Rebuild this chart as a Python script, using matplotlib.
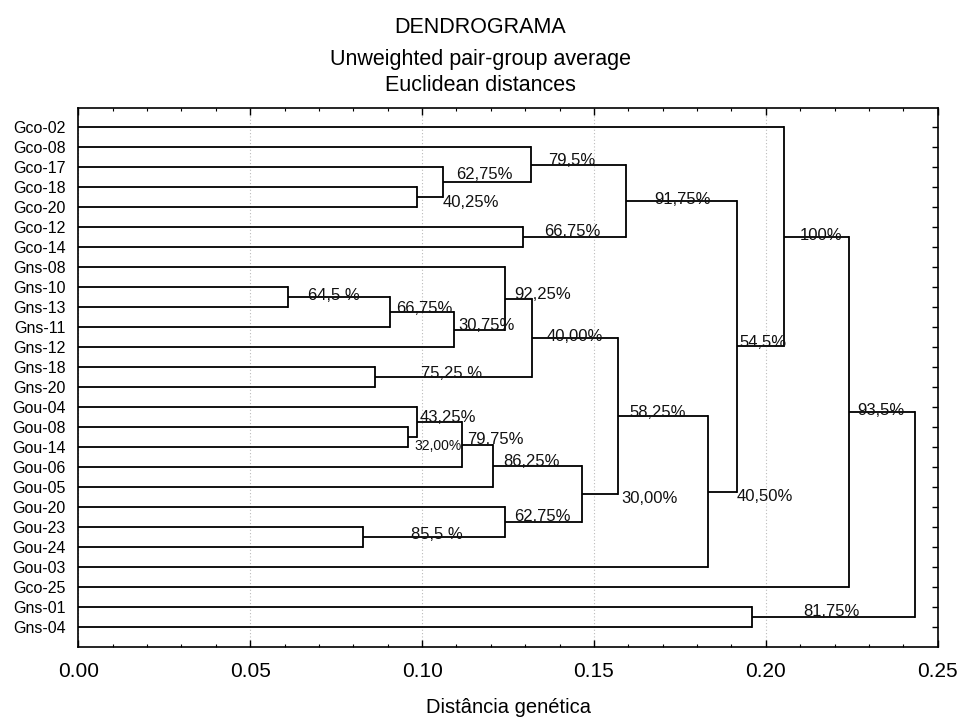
import numpy as np
import matplotlib.pyplot as plt

plt.rcParams['font.family'] = ['Liberation Sans', 'DejaVu Sans']

# folhas na ordem do dendrograma (de cima para baixo)
leaves = ["Gco-02", "Gco-08", "Gco-17", "Gco-18", "Gco-20", "Gco-12", "Gco-14",
          "Gns-08", "Gns-10", "Gns-13", "Gns-11", "Gns-12", "Gns-18", "Gns-20",
          "Gou-04", "Gou-08", "Gou-14", "Gou-06", "Gou-05", "Gou-20", "Gou-23",
          "Gou-24", "Gou-03", "Gco-25", "Gns-01", "Gns-04"]

# unioes: folhas sao 0..25, a uniao k recebe o indice 26+k
merge_a = [3, 2, 1, 5, 28, 8, 31, 32, 7, 12, 34, 15, 14, 38, 39, 20, 19, 40, 36, 44, 30, 0, 47, 24, 48]
merge_b = [4, 26, 27, 6, 29, 9, 10, 11, 33, 13, 35, 16, 37, 17, 18, 21, 41, 42, 43, 22, 45, 46, 23, 25, 49]
merge_h = [0.0985, 0.1061, 0.1316, 0.1294, 0.1592, 0.0609, 0.0907, 0.1092, 0.1240,
           0.0862, 0.1321, 0.0958, 0.0985, 0.1116, 0.1206, 0.0828, 0.1240, 0.1465,
           0.1570, 0.1831, 0.1917, 0.2054, 0.2241, 0.1960, 0.2435]

# valores de suporte (texto) e onde ficam
support = ["62,75%", "40,25%", "79,5%", "66,75%", "91,75%", "100%", "54,5%",
           "93,5%", "40,50%", "81,75%", "30,00%", "58,25%", "92,25%", "66,75%",
           "30,75%", "40,00%", "75,25 %", "43,25%", "64,5 %", "79,75%", "32,00%",
           "86,25%", "62,75%", "85,5 %"]
support_x = [0.1100, 0.1061, 0.1366, 0.1355, 0.1674, 0.2098, 0.1923, 0.2267, 0.1914,
             0.2110, 0.1580, 0.1604, 0.1267, 0.0924, 0.1105, 0.1362, 0.0996, 0.0993,
             0.0669, 0.1131, 0.0979, 0.1235, 0.1267, 0.0969]
support_y = [2.27, 3.67, 1.56, 5.13, 3.50, 5.33, 10.65, 14.05, 18.37, 24.13, 18.47,
             14.15, 8.27, 8.98, 9.81, 10.39, 12.22, 14.42, 8.31, 15.52, 15.81, 16.60,
             19.37, 20.26]

n = len(leaves)
node_x = [0.0] * n
node_y = list(range(n))

fig = plt.figure(figsize=(9.61, 7.23), dpi=100)
ax = fig.add_axes([0.0815, 0.1055, 0.8943, 0.7447])

for a, b, h in zip(merge_a, merge_b, merge_h):
    ya, yb = node_y[a], node_y[b]
    ax.plot([node_x[a], h], [ya, ya], color="black", lw=1.3, solid_capstyle="butt")
    ax.plot([node_x[b], h], [yb, yb], color="black", lw=1.3, solid_capstyle="butt")
    ax.plot([h, h], [ya, yb], color="black", lw=1.3, solid_capstyle="projecting")
    node_x.append(h)
    node_y.append((ya + yb) / 2)

for i, (txt, x, y) in enumerate(zip(support, support_x, support_y)):
    fs = 10 if txt == "32,00%" else 12
    ax.text(x, y + 0.31, txt, fontsize=fs, ha="left", va="baseline", color="#111111")

ax.set_xlim(0, 0.25)
ax.set_ylim(25.97, -0.95)
ax.set_xticks(np.arange(0, 0.251, 0.05))
ax.set_xticklabels([f"{v:.2f}" for v in np.arange(0, 0.251, 0.05)])
ax.set_xticks(np.arange(0, 0.251, 0.01), minor=True)
ax.set_yticks(range(n))
ax.set_yticklabels(leaves, fontsize=11.5)
ax.grid(axis="x", which="major", color="#bbbbbb", linestyle=(0, (1, 2)), lw=0.8)

ax.tick_params(axis="x", which="major", direction="in", length=5, width=1,
               top=True, labelsize=15, pad=11)
ax.tick_params(axis="x", which="minor", direction="in", length=2.5, width=0.8, top=True)
ax.tick_params(axis="y", which="major", direction="in", length=4, width=1,
               left=False, right=True, pad=9)
for s in ax.spines.values():
    s.set_linewidth(1.2)

ax.set_xlabel("Distância genética", fontsize=14.5, labelpad=12)

fig.text(0.5, 0.9544, "DENDROGRAMA", fontsize=15.5, ha="center", va="baseline")
fig.text(0.5, 0.9101, "Unweighted pair-group average", fontsize=15.5, ha="center", va="baseline")
fig.text(0.5, 0.8741, "Euclidean distances", fontsize=15.5, ha="center", va="baseline")

fig.savefig("out.png", dpi=100)
